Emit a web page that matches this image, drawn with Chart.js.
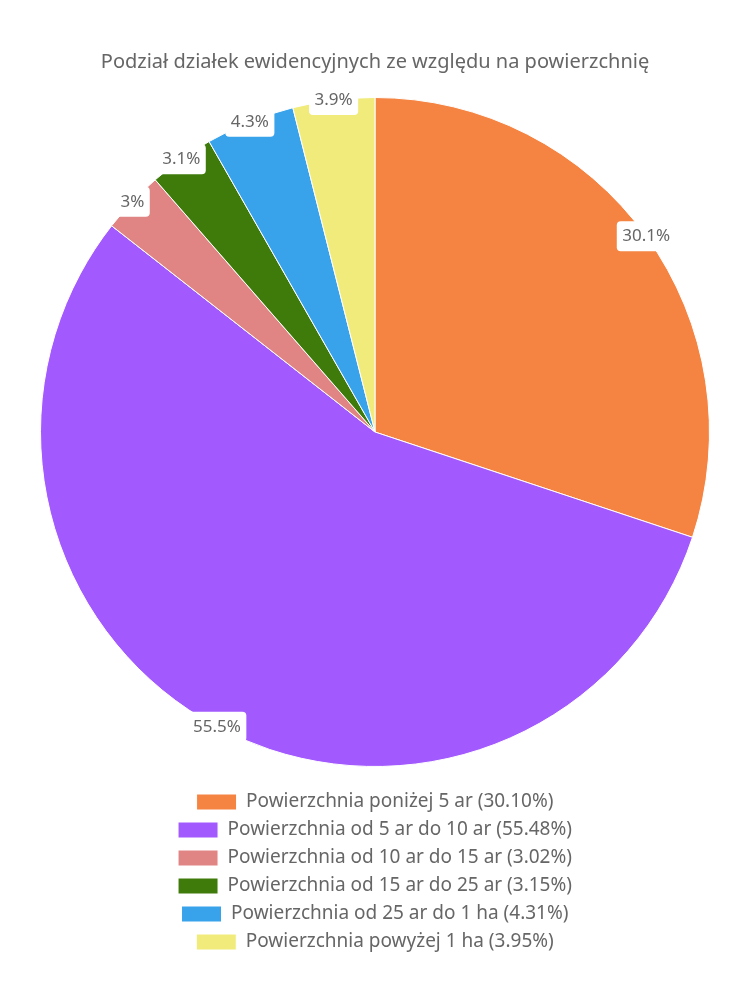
<!DOCTYPE html>
<html>
<head>
<meta charset="utf-8">
<script src="https://cdn.jsdelivr.net/npm/chart.js@4"></script>
<style>
html,body{margin:0;padding:0;background:#fff;}
#wrap{width:750px;height:1000px;}
</style>
</head>
<body>
<div id="wrap"><canvas id="c"></canvas></div>
<script>
const titleText = 'Podział działek ewidencyjnych ze względu na powierzchnię';
const categories = [
  'Powierzchnia poniżej 5 ar',
  'Powierzchnia od 5 ar do 10 ar',
  'Powierzchnia od 10 ar do 15 ar',
  'Powierzchnia od 15 ar do 25 ar',
  'Powierzchnia od 25 ar do 1 ha',
  'Powierzchnia powyżej 1 ha'
];
const values = [30.10, 55.48, 3.02, 3.15, 4.31, 3.95];
const sliceLabels = ['30.1%', '55.5%', '3%', '3.1%', '4.3%', '3.9%'];
const colors = ['#F58442', '#A259FE', '#E08484', '#3E7B0B', '#38A3EB', '#F0EB7B'];

const FONT = "'Noto Sans', sans-serif";
const GREY = '#666666';

const edgeLabels = {
  id: 'edgeLabels',
  afterDatasetsDraw(chart) {
    const ctx = chart.ctx;
    const meta = chart.getDatasetMeta(0);
    ctx.save();
    ctx.font = '17px ' + FONT;
    ctx.textAlign = 'center';
    ctx.textBaseline = 'middle';
    meta.data.forEach((arc, i) => {
      const p = arc.getProps(['x', 'y', 'startAngle', 'endAngle', 'outerRadius'], true);
      const a = (p.startAngle + p.endAngle) / 2;
      const cx = p.x + Math.cos(a) * p.outerRadius;
      const cy = p.y + Math.sin(a) * p.outerRadius;
      const t = sliceLabels[i];
      const w = ctx.measureText(t).width + 11;
      const h = 30;
      ctx.fillStyle = '#ffffff';
      ctx.beginPath();
      ctx.roundRect(cx - w / 2, cy - h / 2, w, h, 4);
      ctx.fill();
      ctx.fillStyle = GREY;
      ctx.fillText(t, cx, cy);
    });
    ctx.restore();
  }
};

const oneItemPerRow = {
  id: 'oneItemPerRow',
  beforeLayout(chart) {
    const lg = chart.legend;
    if (lg && !lg._oneRowPatched && typeof lg._fitRows === 'function') {
      const orig = lg._fitRows;
      lg._fitRows = function (...args) {
        const mw = this.maxWidth;
        this.maxWidth = 420;
        const r = orig.apply(this, args);
        this.maxWidth = mw;
        return r;
      };
      lg._oneRowPatched = true;
    }
  }
};

new Chart(document.getElementById('c'), {
  type: 'pie',
  data: {
    labels: categories.map((c, i) => c + ' (' + values[i].toFixed(2) + '%)'),
    datasets: [{
      data: values,
      backgroundColor: colors,
      borderColor: '#ffffff',
      borderWidth: 1
    }]
  },
  options: {
    responsive: true,
    maintainAspectRatio: false,
    animation: false,
    layout: { padding: { top: 50, bottom: 38.5, left: 0, right: 0 } },
    plugins: {
      title: {
        display: true,
        text: titleText,
        color: GREY,
        font: { family: FONT, size: 20, weight: 'normal', lineHeight: 1.2 },
        padding: { top: 0, bottom: 23 }
      },
      legend: {
        position: 'bottom',
        title: {
          display: true,
          text: '',
          font: { size: 1, lineHeight: 1 },
          padding: { top: 7.75, bottom: 7.75 }
        },
        labels: {
          color: GREY,
          font: { family: FONT, size: 19 },
          boxWidth: 40,
          boxHeight: 16,
          padding: 9
        }
      },
      tooltip: { enabled: false }
    }
  },
  plugins: [edgeLabels, oneItemPerRow]
});
</script>
</body>
</html>
